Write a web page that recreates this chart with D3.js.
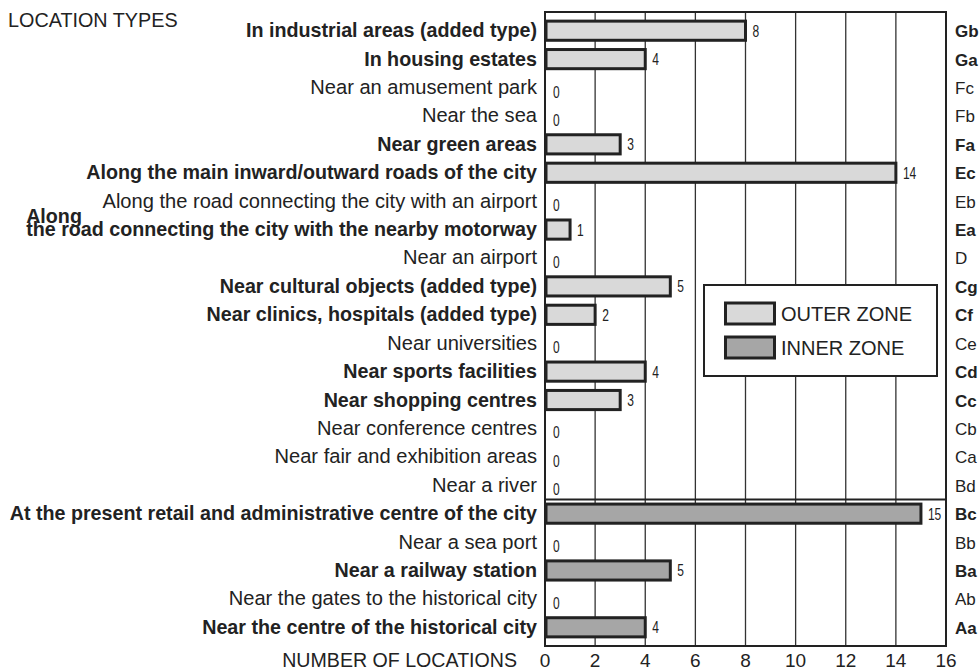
<!DOCTYPE html>
<html>
<head>
<meta charset="utf-8">
<script src="https://cdn.jsdelivr.net/npm/d3@7"></script>
<style>
  body { margin: 0; background: #fff; }
  svg text { font-family: "Liberation Sans", Arial, sans-serif; fill: #222; }
</style>
</head>
<body>
<div id="chart"></div>
<script>
// location types, top to bottom
const categories = [
  "In industrial areas (added type)",
  "In housing estates",
  "Near an amusement park",
  "Near the sea",
  "Near green areas",
  "Along the main inward/outward roads of the city",
  "Along the road connecting the city with an airport",
  "Along\nthe road connecting the city with the nearby motorway",
  "Near an airport",
  "Near cultural objects (added type)",
  "Near clinics, hospitals (added type)",
  "Near universities",
  "Near sports facilities",
  "Near shopping centres",
  "Near conference centres",
  "Near fair and exhibition areas",
  "Near a river",
  "At the present retail and administrative centre of the city",
  "Near a sea port",
  "Near a railway station",
  "Near the gates to the historical city",
  "Near the centre of the historical city"
];
const codes = ["Gb","Ga","Fc","Fb","Fa","Ec","Eb","Ea","D","Cg","Cf","Ce","Cd","Cc","Cb","Ca","Bd","Bc","Bb","Ba","Ab","Aa"];
const values = [8,4,0,0,3,14,0,1,0,5,2,0,4,3,0,0,0,15,0,5,0,4];
const zones = ["outer","outer","outer","outer","outer","outer","outer","outer","outer","outer","outer","outer","outer","outer","outer","outer","outer",
               "inner","inner","inner","inner","inner"];
const xTicks = [0,2,4,6,8,10,12,14,16];
const legendItems = [{ key: "outer", label: "OUTER ZONE" }, { key: "inner", label: "INNER ZONE" }];

const width = 980, height = 670;
const plot = { left: 545, right: 946, top: 12, bottom: 646 };
const fills = { outer: "#d9d9d9", inner: "#a6a6a6" };
const labelSize = { bold: "19.7px", normal: "20.1px" };

const svg = d3.select("#chart").append("svg")
  .attr("width", width).attr("height", height);

const x = d3.scaleLinear().domain([0, 16]).range([plot.left, plot.right]);
const y = d3.scaleBand().domain(d3.range(categories.length))
  .range([plot.top + 4.5, plot.bottom - 4.5]).paddingInner(0.22).paddingOuter(0.11);

// grid lines
svg.append("g").selectAll("line")
  .data(xTicks.slice(1, -1))
  .enter().append("line")
  .attr("x1", d => x(d)).attr("x2", d => x(d))
  .attr("y1", plot.top).attr("y2", plot.bottom)
  .attr("stroke", "#333").attr("stroke-width", 1.3);

// zone separator
const sepIdx = zones.indexOf("inner");
const sepY = (y(sepIdx - 1) + y.bandwidth() + y(sepIdx)) / 2;
svg.append("line")
  .attr("x1", plot.left).attr("x2", plot.right)
  .attr("y1", sepY).attr("y2", sepY)
  .attr("stroke", "#222").attr("stroke-width", 2);

// frame
svg.append("rect")
  .attr("x", plot.left).attr("y", plot.top)
  .attr("width", plot.right - plot.left).attr("height", plot.bottom - plot.top)
  .attr("fill", "none").attr("stroke", "#222").attr("stroke-width", 2);

// bars
svg.append("g").selectAll("rect")
  .data(values.map((v, i) => ({ v, i })).filter(d => d.v > 0))
  .enter().append("rect")
  .attr("x", x(0) + 1)
  .attr("y", d => y(d.i) + 1.5)
  .attr("width", d => x(d.v) - x(0) - 1)
  .attr("height", y.bandwidth() - 3)
  .attr("fill", d => fills[zones[d.i]])
  .attr("stroke", "#222").attr("stroke-width", 3);

// value labels (narrow digits)
svg.append("g").selectAll("text")
  .data(values)
  .enter().append("text")
  .attr("transform", (d, i) => {
    const tx = d > 0 ? x(d) + 7 : x(0) + 8;
    const ty = y(i) + y.bandwidth() / 2 + (d > 0 ? 6 : 10);
    return `translate(${tx},${ty}) scale(0.75,1)`;
  })
  .style("font-size", "16px")
  .text(d => d);

// left category labels
const catG = svg.append("g");
categories.forEach((c, i) => {
  const lines = c.split("\n");
  const cy = y(i) + y.bandwidth() / 2;
  const weight = values[i] > 0 ? "bold" : "normal";
  const size = labelSize[weight];
  if (lines.length > 1) {
    const second = catG.append("text")
      .attr("x", plot.left - 8).attr("y", cy + 6)
      .attr("text-anchor", "end")
      .style("font-size", size).style("font-weight", weight)
      .text(lines[1]);
    const startX = plot.left - 8 - second.node().getComputedTextLength();
    catG.append("text")
      .attr("x", startX).attr("y", cy - 7)
      .style("font-size", size).style("font-weight", weight)
      .text(lines[0]);
  } else {
    catG.append("text")
      .attr("x", plot.left - 8).attr("y", cy + 6.5)
      .attr("text-anchor", "end")
      .style("font-size", size).style("font-weight", weight)
      .text(c);
  }
});

// right code labels
svg.append("g").selectAll("text")
  .data(codes)
  .enter().append("text")
  .attr("x", plot.right + 9)
  .attr("y", (d, i) => y(i) + y.bandwidth() / 2 + 6.5)
  .style("font-size", "17px")
  .style("font-weight", (d, i) => values[i] > 0 ? "bold" : "normal")
  .text(d => d);

// x axis tick labels
svg.append("g").selectAll("text")
  .data(xTicks)
  .enter().append("text")
  .attr("x", d => x(d)).attr("y", 667)
  .attr("text-anchor", "middle")
  .style("font-size", "19px")
  .text(d => d);

svg.append("text")
  .attr("x", 517).attr("y", 667).attr("text-anchor", "end")
  .style("font-size", "19.6px")
  .text("NUMBER OF LOCATIONS");

svg.append("text")
  .attr("x", 8).attr("y", 27)
  .style("font-size", "19.8px")
  .text("LOCATION TYPES");

// legend
const leg = svg.append("g").attr("transform", "translate(704,285)");
leg.append("rect").attr("width", 233).attr("height", 91)
  .attr("fill", "#fff").attr("stroke", "#222").attr("stroke-width", 2);
legendItems.forEach((it, k) => {
  leg.append("rect")
    .attr("x", 21.5).attr("y", 18 + k * 34)
    .attr("width", 49).attr("height", 21)
    .attr("fill", fills[it.key]).attr("stroke", "#222").attr("stroke-width", 3);
  leg.append("text")
    .attr("x", 77).attr("y", 36 + k * 34)
    .style("font-size", "20px")
    .text(it.label);
});
</script>
</body>
</html>
